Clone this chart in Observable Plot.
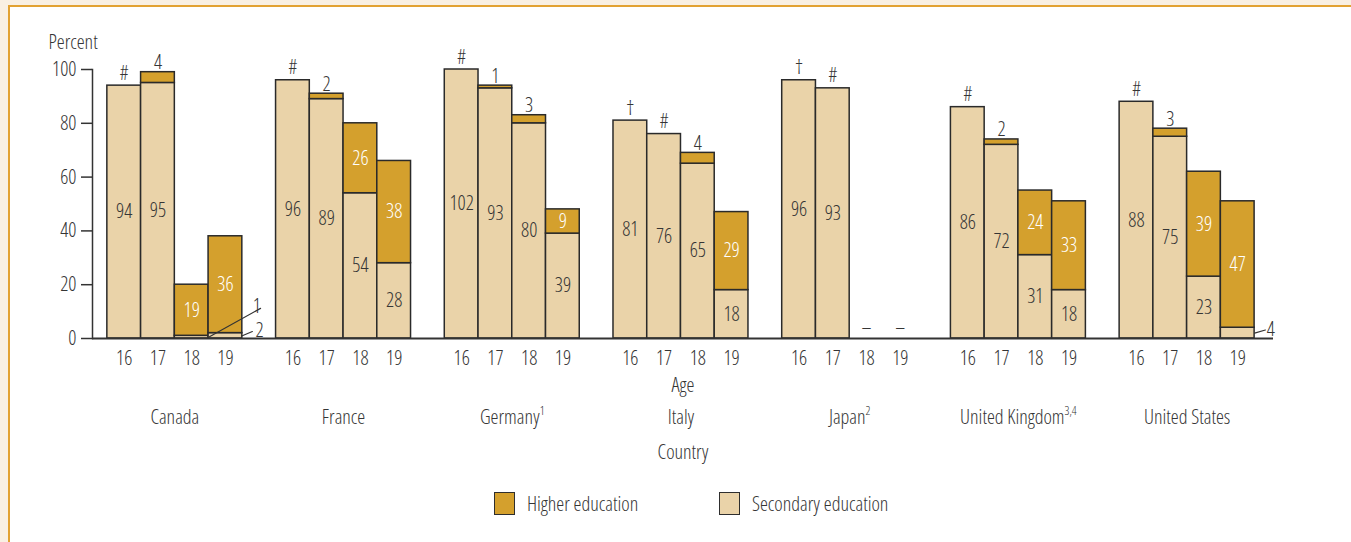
<!DOCTYPE html>
<html>
<head>
<meta charset="utf-8">
<script src="https://cdn.jsdelivr.net/npm/d3@7"></script>
<script src="https://cdn.jsdelivr.net/npm/@observablehq/plot@0.6"></script>
<style>
  html, body { margin: 0; padding: 0; background: #f9f0e3; width: 1351px; height: 542px; overflow: hidden; }
  #panel { position: absolute; left: 8px; top: 5px; width: 1400px; height: 600px; background: #ffffff;
           border-left: 2px solid #e2a233; border-top: 2px solid #e2a233; }
  #chart { position: absolute; left: 0; top: 0; }
  #chart svg, #chart svg text { font-family: "Open Sans", sans-serif; font-stretch: 75%; font-weight: 340; }
  #legend { position: absolute; left: 0; top: 491px; width: 1351px; height: 26px;
            font-family: "Open Sans", sans-serif; font-stretch: 75%; font-weight: 340;
            font-size: 20px; color: #353535; }
  .item { position: absolute; top: 0; display: flex; align-items: center; height: 24px; }
  .sw { width: 21px; height: 23px; border: 1.5px solid #2e2e2e; box-sizing: border-box; margin-right: 12px; }
</style>
</head>
<body>
<div id="panel"></div>
<div id="chart"></div>
<div id="legend"></div>
<script>
// ---------------- data ----------------
const countries = ["Canada", "France", "Germany", "Italy", "Japan", "United Kingdom", "United States"];
const countryNotes = ["", "", "1", "", "2", "3,4", ""];
const ages = ["16", "17", "18", "19"];
// Secondary education enrollment (percent), by country and age
const secondary = [
  [94, 95, 1, 2],
  [96, 89, 54, 28],
  [102, 93, 80, 39],
  [81, 76, 65, 18],
  [96, 93, null, null],
  [86, 72, 31, 18],
  [88, 75, 23, 4]
];
// Higher education enrollment (percent); null where a symbol is shown instead
const higher = [
  [null, 4, 19, 36],
  [null, 2, 26, 38],
  [null, 1, 3, 9],
  [null, null, 4, 29],
  [null, null, null, null],
  [null, 2, 24, 33],
  [null, 3, 39, 47]
];
// Symbols: # rounds to zero, † not applicable, – not available
const higherSymbols = [
  ["#", "", "", ""],
  ["#", "", "", ""],
  ["#", "", "", ""],
  ["†", "#", "", ""],
  ["†", "#", "–", "–"],
  ["#", "", "", ""],
  ["#", "", "", ""]
];
const yTicks = [0, 20, 40, 60, 80, 100];
const seriesNames = ["Higher education", "Secondary education"];
const seriesColors = ["#d4a02d", "#ead3a9"];

// ---------------- derived tables ----------------
const keyOf = (c, a) => c + "|" + a;
const domain = [];
countries.forEach((c, ci) => {
  ages.forEach(a => domain.push(keyOf(c, a)));
  if (ci < countries.length - 1) domain.push("gap" + ci);
});
const barKeys = domain.filter(k => !k.startsWith("gap"));

const segments = [], insideLabels = [], aboveLabels = [], aboveSymbols = [], baseSymbols = [], callouts = [];
countries.forEach((c, ci) => ages.forEach((a, ai) => {
  const key = keyOf(c, a);
  const s = secondary[ci][ai], h = higher[ci][ai], sym = higherSymbols[ci][ai];
  if (s != null) {
    segments.push({key, series: "Secondary education", y1: 0, y2: s});
    if (s >= 5) insideLabels.push({key, y: Math.min(s, 100) / 2, text: String(s), white: false});
    else callouts.push({key, y: s / 2, text: String(s)});
  }
  const base = s ?? 0;
  if (h != null) {
    segments.push({key, series: "Higher education", y1: base, y2: base + h});
    if (h >= 9) insideLabels.push({key, y: base + h / 2, text: String(h), white: true});
    else aboveLabels.push({key, y: base + h, text: String(h)});
  }
  if (sym === "–") baseSymbols.push({key, text: sym});
  else if (sym) aboveSymbols.push({key, y: base + (h ?? 0), text: sym});
}));
const groupLabels = countries.map((c, ci) => ({key: keyOf(c, "17"), name: c, note: countryNotes[ci]}));

// ---------------- layout ----------------
const W = 1351, H = 470;
const mL = 92, mR = 78, mT = 69, mB = H - 338;
const padOuter = 0.5;
const step = (W - mL - mR) / (domain.length + 2 * padOuter);
const ink = "#353535";

// callout leader lines (pixel geometry, keyed by bar)
const calloutStyle = {
  "Canada|18": {len: 59.4, rot: 61, tdx: 61, tdy: -31},
  "Canada|19": {len: 10.9, rot: 67, tdx: 30, tdy: -5},
  "United States|19": {len: 11.2, rot: 74, tdx: 29, tdy: -4}
};
const leaderShape = {draw(context, l) { context.moveTo(0, 0); context.lineTo(0, -l); }};

const marks = [
  Plot.barY(segments, {
    x: "key", y1: "y1", y2: "y2",
    fill: d => seriesColors[seriesNames.indexOf(d.series)],
    stroke: "#2a2a2a", strokeWidth: 1.5
  }),
  Plot.ruleY([0], {stroke: "#333", strokeWidth: 2}),
  Plot.frame({anchor: "left", stroke: "#333", strokeWidth: 1.5}),
  Plot.axisY({ticks: yTicks, tickSize: 11, tickPadding: 5, label: null, stroke: "#333", strokeWidth: 1.5, fill: ink}),
  Plot.axisX({ticks: barKeys, tickFormat: k => k.split("|")[1], tickSize: 0, tickPadding: 12, label: null, fill: ink}),
  Plot.text(insideLabels, {x: "key", y: "y", text: "text", fill: d => d.white ? "#ffffff" : ink, lineAnchor: "middle"}),
  Plot.text(aboveLabels, {x: "key", y: "y", text: "text", fill: ink, lineAnchor: "bottom", dy: -3}),
  Plot.text(aboveSymbols, {x: "key", y: "y", text: "text", fill: ink, lineAnchor: "bottom", dy: -6}),
  Plot.text(baseSymbols, {x: "key", y: () => 0, text: "text", fill: ink, lineAnchor: "middle", dy: -11}),
  Plot.text(groupLabels, {x: "key", text: d => d.name + (d.note ? "^" + d.note : ""), frameAnchor: "bottom", dx: step / 2, dy: 79, lineAnchor: "middle", fill: ink}),
  Plot.text(["Age"], {text: d => d, frameAnchor: "bottom", dy: 47, lineAnchor: "middle", fill: ink}),
  Plot.text(["Country"], {text: d => d, frameAnchor: "bottom", dy: 114, lineAnchor: "middle", fill: ink}),
  Plot.text(["Percent"], {text: d => d, frameAnchor: "top-left", dx: -44, dy: -27, textAnchor: "start", lineAnchor: "middle", fill: ink})
];
callouts.forEach(c => {
  const st = calloutStyle[c.key];
  marks.push(Plot.vector([c], {x: "key", y: "y", length: st.len, rotate: st.rot, anchor: "start", shape: leaderShape, stroke: "#333", strokeWidth: 1.2, dx: step / 2}));
  marks.push(Plot.text([c], {x: "key", y: "y", text: "text", textAnchor: "start", lineAnchor: "middle", dx: st.tdx, dy: st.tdy, fill: ink}));
});

const chart = Plot.plot({
  width: W, height: H,
  marginLeft: mL, marginRight: mR, marginTop: mT, marginBottom: mB,
  style: {background: "transparent", fontFamily: '"Open Sans", sans-serif', fontSize: "20px", color: ink, overflow: "visible"},
  x: {type: "band", domain, paddingInner: 0, paddingOuter: padOuter, align: 0.44, round: false, axis: null},
  y: {domain: [0, 100], clamp: true, axis: null},
  marks
});

// superscript notes on country names
chart.querySelectorAll("text").forEach(t => {
  if (t.children.length === 0 && t.textContent.includes("^")) {
    const [name, note] = t.textContent.split("^");
    t.textContent = "";
    const a = document.createElementNS("http://www.w3.org/2000/svg", "tspan");
    a.textContent = name;
    const b = document.createElementNS("http://www.w3.org/2000/svg", "tspan");
    b.textContent = note;
    b.setAttribute("font-size", "12px");
    b.setAttribute("dy", "-0.75em");
    t.appendChild(a); t.appendChild(b);
  }
});
document.getElementById("chart").appendChild(chart);

// legend
const legend = document.getElementById("legend");
const legendX = [494, 719];
seriesNames.forEach((n, i) => {
  const item = document.createElement("div");
  item.className = "item";
  item.style.left = legendX[i] + "px";
  const sw = document.createElement("div");
  sw.className = "sw";
  sw.style.background = seriesColors[i];
  const label = document.createElement("span");
  label.textContent = n;
  item.appendChild(sw); item.appendChild(label);
  legend.appendChild(item);
});
</script>
</body>
</html>
